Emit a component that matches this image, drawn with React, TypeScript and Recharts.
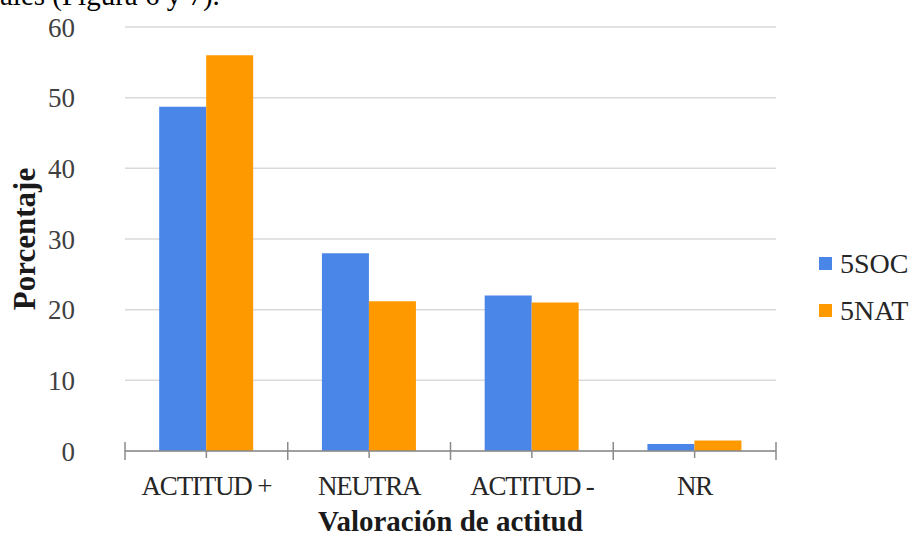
import { BarChart, Bar, CartesianGrid, XAxis, YAxis, Legend, Label } from 'recharts';

const categories = ['ACTITUD +', 'NEUTRA', 'ACTITUD -', 'NR'];
const seriesNames = ['5SOC', '5NAT'];
const soc = [48.7, 28.0, 22.0, 1.0];
const nat = [56.0, 21.2, 21.0, 1.5];
const yTicks = [0, 10, 20, 30, 40, 50, 60];

const data = categories.map((cat, i) => ({ cat, soc: soc[i], nat: nat[i] }));

const FONT = '"Liberation Serif", "Times New Roman", serif';
const BLUE = '#4a86e8';
const ORANGE = '#ff9900';
const AXIS = '#8a8a8a';

const W = 917;
const H = 539;
const MARGIN = { top: 27, right: 141, left: 0, bottom: 0 };
const Y_W = 125;
const X_H = 88;
const BAND = (W - MARGIN.left - MARGIN.right - Y_W) / categories.length;

const XTick = (props: any) => {
    const { x, y, payload, index } = props;
    const left = x - BAND / 2;
    const right = x + BAND / 2;
    return (
        <g>
            <line x1={x} x2={x} y1={y} y2={y + 7} stroke={AXIS} strokeWidth={1.5} />
            <line x1={left} x2={left} y1={y - 9} y2={y + 9} stroke={AXIS} strokeWidth={1.5} />
            {index === categories.length - 1 && (
                <line x1={right} x2={right} y1={y - 9} y2={y + 9} stroke={AXIS} strokeWidth={1.5} />
            )}
            <text
                x={x}
                y={y + 44}
                textAnchor="middle"
                fill="#262626"
                fontSize={27}
                letterSpacing={-1.2}
                fontFamily={FONT}
            >
                {payload.value}
            </text>
        </g>
    );
};

const LegendBox = (props: any) => {
    const items = [...(props.payload || [])].sort(
        (a: any, b: any) => seriesNames.indexOf(a.value) - seriesNames.indexOf(b.value)
    );
    return (
        <div>
            {items.map((p: any) => (
                <div key={p.value} style={{ display: 'flex', alignItems: 'center', height: 47 }}>
                    <span style={{ width: 13, height: 13, background: p.color, marginRight: 8, display: 'inline-block' }} />
                    <span style={{ fontSize: 28, color: '#262626', fontFamily: FONT }}>{p.value}</span>
                </div>
            ))}
        </div>
    );
};

export default function App() {
    return (
        <div style={{ position: 'fixed', left: 0, top: 0, width: W, height: H, background: '#fff', overflow: 'hidden' }}>
            <svg width={W} height={H} style={{ position: 'absolute', left: 0, top: 0 }}>
                <text x={0} y={5} fontSize={29} fontFamily={FONT} fill="#000">
                    ales (Figura 6 y 7).
                </text>
            </svg>
            <div style={{ position: 'absolute', left: 0, top: 0 }}>
                <BarChart width={W} height={H} data={data} margin={MARGIN} barCategoryGap="21%" barGap={0}>
                    <CartesianGrid vertical={false} stroke="#d9d9d9" strokeWidth={1.5} />
                    <XAxis
                        dataKey="cat"
                        height={X_H}
                        tickLine={false}
                        tickSize={0}
                        tickMargin={0}
                        axisLine={{ stroke: AXIS, strokeWidth: 1.5 }}
                        tick={<XTick />}
                        interval={0}
                    >
                        <Label
                            content={(p: any) => (
                                <text
                                    x={p.viewBox.x + p.viewBox.width / 2}
                                    y={531}
                                    textAnchor="middle"
                                    fontSize={29}
                                    fontWeight="bold"
                                    fontFamily={FONT}
                                    fill="#1a1a1a"
                                >
                                    Valoración de actitud
                                </text>
                            )}
                        />
                    </XAxis>
                    <YAxis
                        width={Y_W}
                        domain={[0, 60]}
                        ticks={yTicks}
                        axisLine={false}
                        tickLine={false}
                        tickSize={0}
                        tickMargin={50}
                        tick={{ fill: '#404040', fontSize: 27, fontFamily: FONT }}
                    >
                        <Label
                            content={(p: any) => {
                                const cy = p.viewBox.y + p.viewBox.height / 2;
                                return (
                                    <text
                                        x={35}
                                        y={cy}
                                        transform={`rotate(-90, 35, ${cy})`}
                                        textAnchor="middle"
                                        fontSize={31}
                                        fontWeight="bold"
                                        fontFamily={FONT}
                                        fill="#1a1a1a"
                                    >
                                        Porcentaje
                                    </text>
                                );
                            }}
                        />
                    </YAxis>
                    <Legend
                        layout="vertical"
                        align="center"
                        verticalAlign="middle"
                        content={<LegendBox />}
                        wrapperStyle={{ left: 819, top: 240, width: 98 }}
                    />
                    <Bar dataKey="soc" name="5SOC" fill={BLUE} isAnimationActive={false} />
                    <Bar dataKey="nat" name="5NAT" fill={ORANGE} isAnimationActive={false} />
                </BarChart>
            </div>
        </div>
    );
}
